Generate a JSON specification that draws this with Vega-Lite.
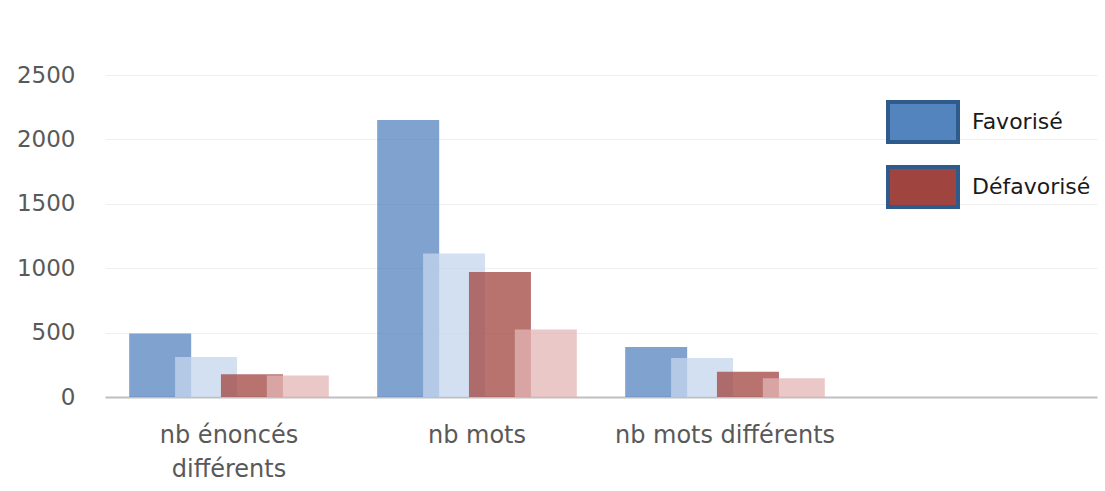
{
  "$schema": "https://vega.github.io/schema/vega-lite/v6.json",
  "width": 992,
  "height": 322,
  "autosize": {"type": "none"},
  "padding": {"left": 105, "top": 75, "right": 8, "bottom": 94},
  "background": "white",
  "config": {"view": {"stroke": null}, "font": "DejaVu Sans"},
  "data": {
    "values": [
      {"categorie": "nb énoncés différents", "serie": "Favorisé", "valeur": 493},
      {"categorie": "nb énoncés différents", "serie": "Favorisé 2", "valeur": 311},
      {"categorie": "nb énoncés différents", "serie": "Défavorisé", "valeur": 176},
      {"categorie": "nb énoncés différents", "serie": "Défavorisé 2", "valeur": 166},
      {"categorie": "nb mots", "serie": "Favorisé", "valeur": 2150},
      {"categorie": "nb mots", "serie": "Favorisé 2", "valeur": 1114},
      {"categorie": "nb mots", "serie": "Défavorisé", "valeur": 971},
      {"categorie": "nb mots", "serie": "Défavorisé 2", "valeur": 524},
      {"categorie": "nb mots différents", "serie": "Favorisé", "valeur": 389},
      {"categorie": "nb mots différents", "serie": "Favorisé 2", "valeur": 303},
      {"categorie": "nb mots différents", "serie": "Défavorisé", "valeur": 197},
      {"categorie": "nb mots différents", "serie": "Défavorisé 2", "valeur": 145}
    ]
  },
  "mark": {"type": "bar", "width": 62, "opacity": 0.75},
  "encoding": {
    "x": {
      "field": "categorie",
      "type": "nominal",
      "sort": null,
      "scale": {
        "domain": ["nb énoncés différents", "nb mots", "nb mots différents", " "],
        "paddingInner": 0.26,
        "paddingOuter": 0.13
      },
      "axis": {
        "title": null,
        "labelAngle": 0,
        "labelFontSize": 24,
        "labelColor": "#595959",
        "labelLimit": 0,
        "ticks": false,
        "domainColor": "#BFBFBF",
        "domainWidth": 2,
        "labelPadding": 26,
        "labelBaseline": "top",
        "labelLineHeight": 34,
        "labelExpr": "datum.value == 'nb énoncés différents' ? ['nb énoncés', 'différents'] : datum.value"
      }
    },
    "xOffset": {
      "field": "serie",
      "type": "nominal",
      "scale": {
        "domain": ["Favorisé", "Favorisé 2", "Défavorisé", "Défavorisé 2"],
        "paddingInner": 0,
        "paddingOuter": 0
      }
    },
    "y": {
      "field": "valeur",
      "type": "quantitative",
      "stack": null,
      "scale": {"domain": [0, 2500], "nice": false},
      "axis": {
        "title": null,
        "values": [0, 500, 1000, 1500, 2000, 2500],
        "format": "d",
        "labelFontSize": 23,
        "labelColor": "#595959",
        "ticks": false,
        "domain": false,
        "gridColor": "#EFEFEF",
        "labelPadding": 30
      }
    },
    "color": {
      "field": "serie",
      "type": "nominal",
      "scale": {
        "domain": ["Favorisé", "Favorisé 2", "Défavorisé", "Défavorisé 2"],
        "range": ["#5484BE", "#C4D6EE", "#A0443F", "#E4B6B6"]
      },
      "legend": {
        "values": ["Favorisé", "Défavorisé"],
        "title": null,
        "orient": "none",
        "legendX": 781,
        "legendY": 10,
        "symbolType": "M-1,-0.57L1,-0.57L1,0.57L-1,0.57Z",
        "symbolSize": 4900,
        "symbolStrokeWidth": 4,
        "symbolStrokeColor": "#2F5B8C",
        "symbolOpacity": 1,
        "labelFontSize": 22,
        "labelColor": "#1A1A1A",
        "labelLimit": 0,
        "labelOffset": 12,
        "rowPadding": -3
      }
    }
  }
}
